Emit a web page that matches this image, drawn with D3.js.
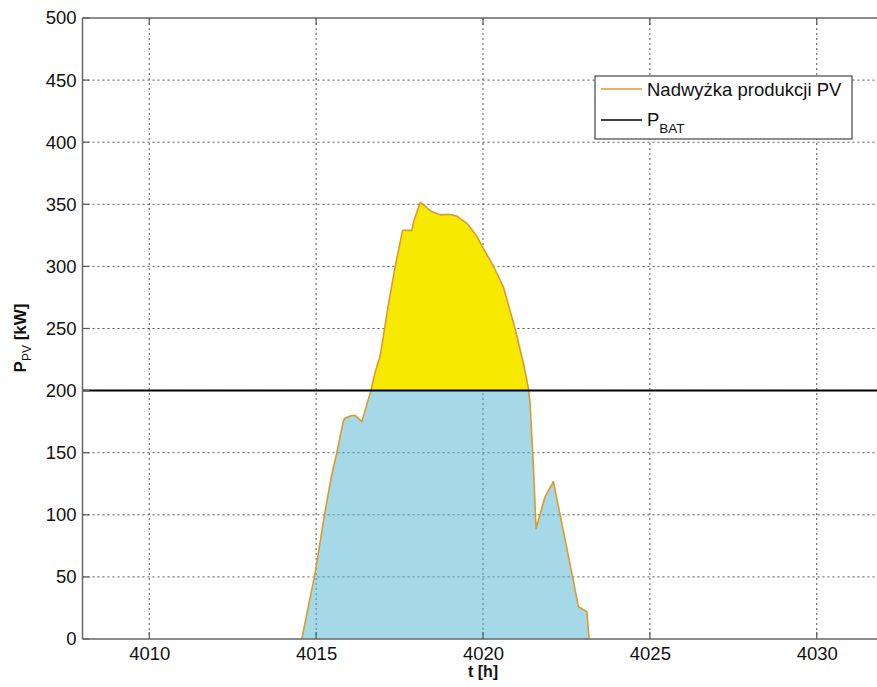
<!DOCTYPE html>
<html>
<head>
<meta charset="utf-8">
<script src="https://cdn.jsdelivr.net/npm/d3@7"></script>
<style>
  html, body { margin: 0; padding: 0; background: #fff; }
  svg { display: block; font-family: "Liberation Sans", Arial, sans-serif; }
</style>
</head>
<body>
<svg id="chart" width="877" height="687"></svg>
<script>
// PV surplus profile over one day
const hours = [4014.57, 4014.97, 4015.25, 4015.45, 4015.62, 4015.82, 4015.87, 4016.07, 4016.17, 4016.37,
  4016.64, 4016.77, 4016.92, 4017.17, 4017.37, 4017.59, 4017.87, 4017.92, 4018.12, 4018.47,
  4018.72, 4018.97, 4019.22, 4019.52, 4019.82, 4020.01, 4020.31, 4020.61, 4020.96, 4021.21,
  4021.36, 4021.41, 4021.51, 4021.59, 4021.86, 4022.11, 4022.46, 4022.86, 4023.11, 4023.18];
const pvPower = [0, 53, 100, 130, 150, 176, 178, 180, 180, 175,
  200, 215, 228, 270, 300, 329, 329, 336, 351.5, 344,
  341.5, 342, 340.5, 334.7, 324, 314.5, 300.3, 283.6, 250, 222,
  202, 190, 139, 89, 114.6, 126.6, 80, 26, 22, 0];
const batteryPower = 200;
const xTicks = [4010, 4015, 4020, 4025, 4030];
const yTicks = [0, 50, 100, 150, 200, 250, 300, 350, 400, 450, 500];
const legendLabels = ["Nadwyżka produkcji PV", "P", "BAT"];

const svg = d3.select("#chart");
const margin = { left: 82.5, top: 18, right: 883.5, bottom: 639 };

const x = d3.scaleLinear().domain([4008, 4032]).range([margin.left, margin.right]);
const y = d3.scaleLinear().domain([0, 500]).range([margin.bottom, margin.top]);

const data = hours.map((t, i) => ({ t, p: pvPower[i] }));

const defs = svg.append("defs");
defs.append("clipPath").attr("id", "above")
  .append("rect").attr("x", margin.left).attr("y", margin.top)
  .attr("width", margin.right - margin.left).attr("height", y(batteryPower) - margin.top);
defs.append("clipPath").attr("id", "below")
  .append("rect").attr("x", margin.left).attr("y", y(batteryPower))
  .attr("width", margin.right - margin.left).attr("height", margin.bottom - y(batteryPower));

// grid
function drawGrid(g) {
  g.selectAll("line.gx").data(xTicks).join("line").attr("class", "gx")
    .attr("x1", d => x(d)).attr("x2", d => x(d))
    .attr("y1", margin.top).attr("y2", margin.bottom);
  g.selectAll("line.gy").data(yTicks.slice(1, -1)).join("line").attr("class", "gy")
    .attr("x1", margin.left).attr("x2", margin.right)
    .attr("y1", d => y(d)).attr("y2", d => y(d));
}
drawGrid(svg.append("g").attr("stroke", "#555").attr("stroke-width", 1).attr("stroke-dasharray", "2,3"));

// filled areas: surplus above battery power, covered part below
const area = d3.area().x(d => x(d.t)).y0(y(0)).y1(d => y(d.p));
svg.append("path").datum(data).attr("d", area)
  .attr("fill", "#f7ea00").attr("clip-path", "url(#above)");
svg.append("path").datum(data).attr("d", area)
  .attr("fill", "#a5d9e8").attr("clip-path", "url(#below)");

// grid drawn again over the blue region
defs.append("clipPath").attr("id", "shape").append("path").datum(data).attr("d", area);
drawGrid(svg.append("g").attr("clip-path", "url(#below)")
  .append("g").attr("clip-path", "url(#shape)")
  .attr("stroke", "#3d6a7a").attr("stroke-width", 1).attr("stroke-dasharray", "2,3").attr("opacity", 0.8));

// PV outline
svg.append("path").datum(data)
  .attr("d", d3.line().x(d => x(d.t)).y(d => y(d.p)))
  .attr("fill", "none").attr("stroke", "#dc9a2c").attr("stroke-width", 1.6)
  .attr("stroke-linejoin", "round");

// battery power level
svg.append("line")
  .attr("x1", margin.left).attr("x2", margin.right)
  .attr("y1", y(batteryPower)).attr("y2", y(batteryPower))
  .attr("stroke", "#000").attr("stroke-width", 2);

// axes
const xAxis = d3.axisBottom(x).tickValues(xTicks).tickSize(0).tickPadding(8).tickFormat(d3.format("d"));
const gx = svg.append("g").attr("transform", `translate(0,${margin.bottom})`).call(xAxis);
gx.select(".domain").remove();
gx.selectAll("text").attr("font-size", 18.5).attr("fill", "#111").attr("font-family", "Liberation Sans, Arial, sans-serif");

const yAxis = d3.axisLeft(y).tickValues(yTicks).tickSize(0).tickPadding(6);
const gy = svg.append("g").attr("transform", `translate(${margin.left},0)`).call(yAxis);
gy.select(".domain").remove();
gy.selectAll("text").attr("font-size", 18.5).attr("fill", "#111").attr("font-family", "Liberation Sans, Arial, sans-serif");

// inward tick marks
const ticks = svg.append("g").attr("stroke", "#555").attr("stroke-width", 1.2);
ticks.selectAll("line.tx").data(xTicks).join("line").attr("class", "tx")
  .attr("x1", d => x(d)).attr("x2", d => x(d))
  .attr("y1", margin.bottom).attr("y2", margin.bottom - 7);
ticks.selectAll("line.tx2").data(xTicks).join("line").attr("class", "tx2")
  .attr("x1", d => x(d)).attr("x2", d => x(d))
  .attr("y1", margin.top).attr("y2", margin.top + 7);
ticks.selectAll("line.ty").data(yTicks).join("line").attr("class", "ty")
  .attr("x1", margin.left).attr("x2", margin.left + 7)
  .attr("y1", d => y(d)).attr("y2", d => y(d));

// frame
const frame = svg.append("g").attr("stroke", "#666").attr("stroke-width", 1.5).attr("fill", "none");
frame.append("line").attr("x1", margin.left).attr("x2", margin.right).attr("y1", margin.top).attr("y2", margin.top);
frame.append("line").attr("x1", margin.left).attr("x2", margin.right).attr("y1", margin.bottom).attr("y2", margin.bottom);
frame.append("line").attr("x1", margin.left).attr("x2", margin.left).attr("y1", margin.top).attr("y2", margin.bottom);

// axis titles
svg.append("text").attr("x", (margin.left + 883.5) / 2).attr("y", 677)
  .attr("text-anchor", "middle").attr("font-size", 16).attr("font-weight", "bold")
  .attr("fill", "#111").text("t [h]");

const ylab = svg.append("text").attr("transform", "translate(26,338) rotate(-90)")
  .attr("text-anchor", "middle").attr("font-size", 17).attr("font-weight", "bold").attr("fill", "#111");
ylab.append("tspan").text("P");
ylab.append("tspan").attr("font-size", 12).attr("font-weight", "normal").attr("dy", 5).text("PV");
ylab.append("tspan").attr("dy", -5).text(" [kW]");

// legend
const lg = svg.append("g");
lg.append("rect").attr("x", 595).attr("y", 76).attr("width", 257).attr("height", 63)
  .attr("fill", "#fff").attr("stroke", "#444").attr("stroke-width", 1.2);
lg.append("line").attr("x1", 601).attr("x2", 642).attr("y1", 89).attr("y2", 89)
  .attr("stroke", "#dc9a2c").attr("stroke-width", 1.6);
lg.append("text").attr("x", 647).attr("y", 96).attr("font-size", 18.5).attr("fill", "#111")
  .text(legendLabels[0]);
lg.append("line").attr("x1", 601).attr("x2", 642).attr("y1", 120).attr("y2", 120)
  .attr("stroke", "#000").attr("stroke-width", 1.6);
const l2 = lg.append("text").attr("x", 647).attr("y", 126).attr("font-size", 18.5).attr("fill", "#111");
l2.append("tspan").text(legendLabels[1]);
l2.append("tspan").attr("font-size", 13.5).attr("dy", 7).text(legendLabels[2]);
</script>
</body>
</html>
